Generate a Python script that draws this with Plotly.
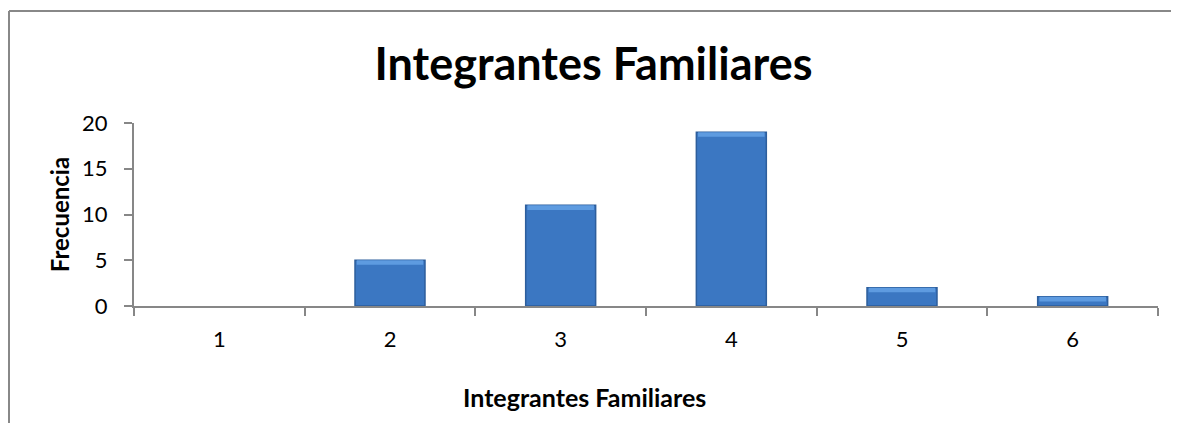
import plotly.graph_objects as go

categories = ["1", "2", "3", "4", "5", "6"]
frecuencia = [0, 5, 11, 19, 2, 1]
y_ticks = [0, 5, 10, 15, 20]

# the page adds an 8px body margin, so the figure is sized to the visible area
W, H = 1171, 415
L, R, T, B = 126, 21, 115, 117
pw, ph = W - L - R, H - T - B

def px(x):
    return (x - L) / pw

def py(y):
    return (H - B - y) / ph

FONT = "Lato, Open Sans, sans-serif"
bevel = 0.5  # data units of the lighter top bevel

fig = go.Figure()
fig.add_trace(go.Bar(
    x=categories, y=frecuencia,
    marker=dict(color="#3B77C2",
                line=dict(color="#2D5E9C", width=[0 if v == 0 else 1.5 for v in frecuencia])),
    width=0.41, hoverinfo="skip",
))
fig.add_trace(go.Bar(
    x=categories,
    y=[min(bevel, v) for v in frecuencia],
    base=[v - min(bevel, v) for v in frecuencia],
    marker=dict(color="#5E9BE0", line=dict(width=0)),
    width=0.39, hoverinfo="skip",
))

fig.update_layout(
    width=W, height=H,
    margin=dict(l=L, r=R, t=T, b=B),
    paper_bgcolor="white", plot_bgcolor="white",
    showlegend=False, barmode="overlay",
    font=dict(family=FONT, color="black", size=21),
    title=dict(text="<b>Integrantes Familiares</b>", x=0.5, xanchor="center",
               y=1 - 56 / H, yanchor="middle",
               font=dict(size=45, family=FONT, color="black")),
    xaxis=dict(
        type="category", showgrid=False, showline=True, linecolor="#878787", linewidth=2,
        ticks="outside", ticklen=8, tickcolor="#878787", tickwidth=1.5,
        tickson="boundaries", tickfont=dict(size=22), range=[-0.5, 5.5],
        ticklabelstandoff=13,
    ),
    yaxis=dict(
        range=[0, 20], tickvals=y_ticks, showgrid=False, showline=True,
        linecolor="#878787", linewidth=2, ticks="outside", ticklen=8,
        tickcolor="#878787", tickwidth=1.5, tickfont=dict(size=22),
        ticklabelstandoff=12,
        title=dict(text="<b>Frecuencia</b>", font=dict(size=24), standoff=6),
        zeroline=False,
    ),
    annotations=[dict(
        text="<b>Integrantes Familiares</b>", xref="paper", yref="paper",
        x=px(576), y=py(389), xanchor="center", yanchor="middle",
        showarrow=False, font=dict(size=25, family=FONT, color="black"),
    )],
)

# outer chart border (left and top edges visible)
fig.add_shape(type="line", xref="paper", yref="paper",
              x0=px(1), x1=px(1), y0=py(3), y1=py(H + 5),
              line=dict(color="#888888", width=2))
fig.add_shape(type="line", xref="paper", yref="paper",
              x0=px(1), x1=px(W + 5), y0=py(3), y1=py(3),
              line=dict(color="#888888", width=2))

fig.write_html("out.html")
